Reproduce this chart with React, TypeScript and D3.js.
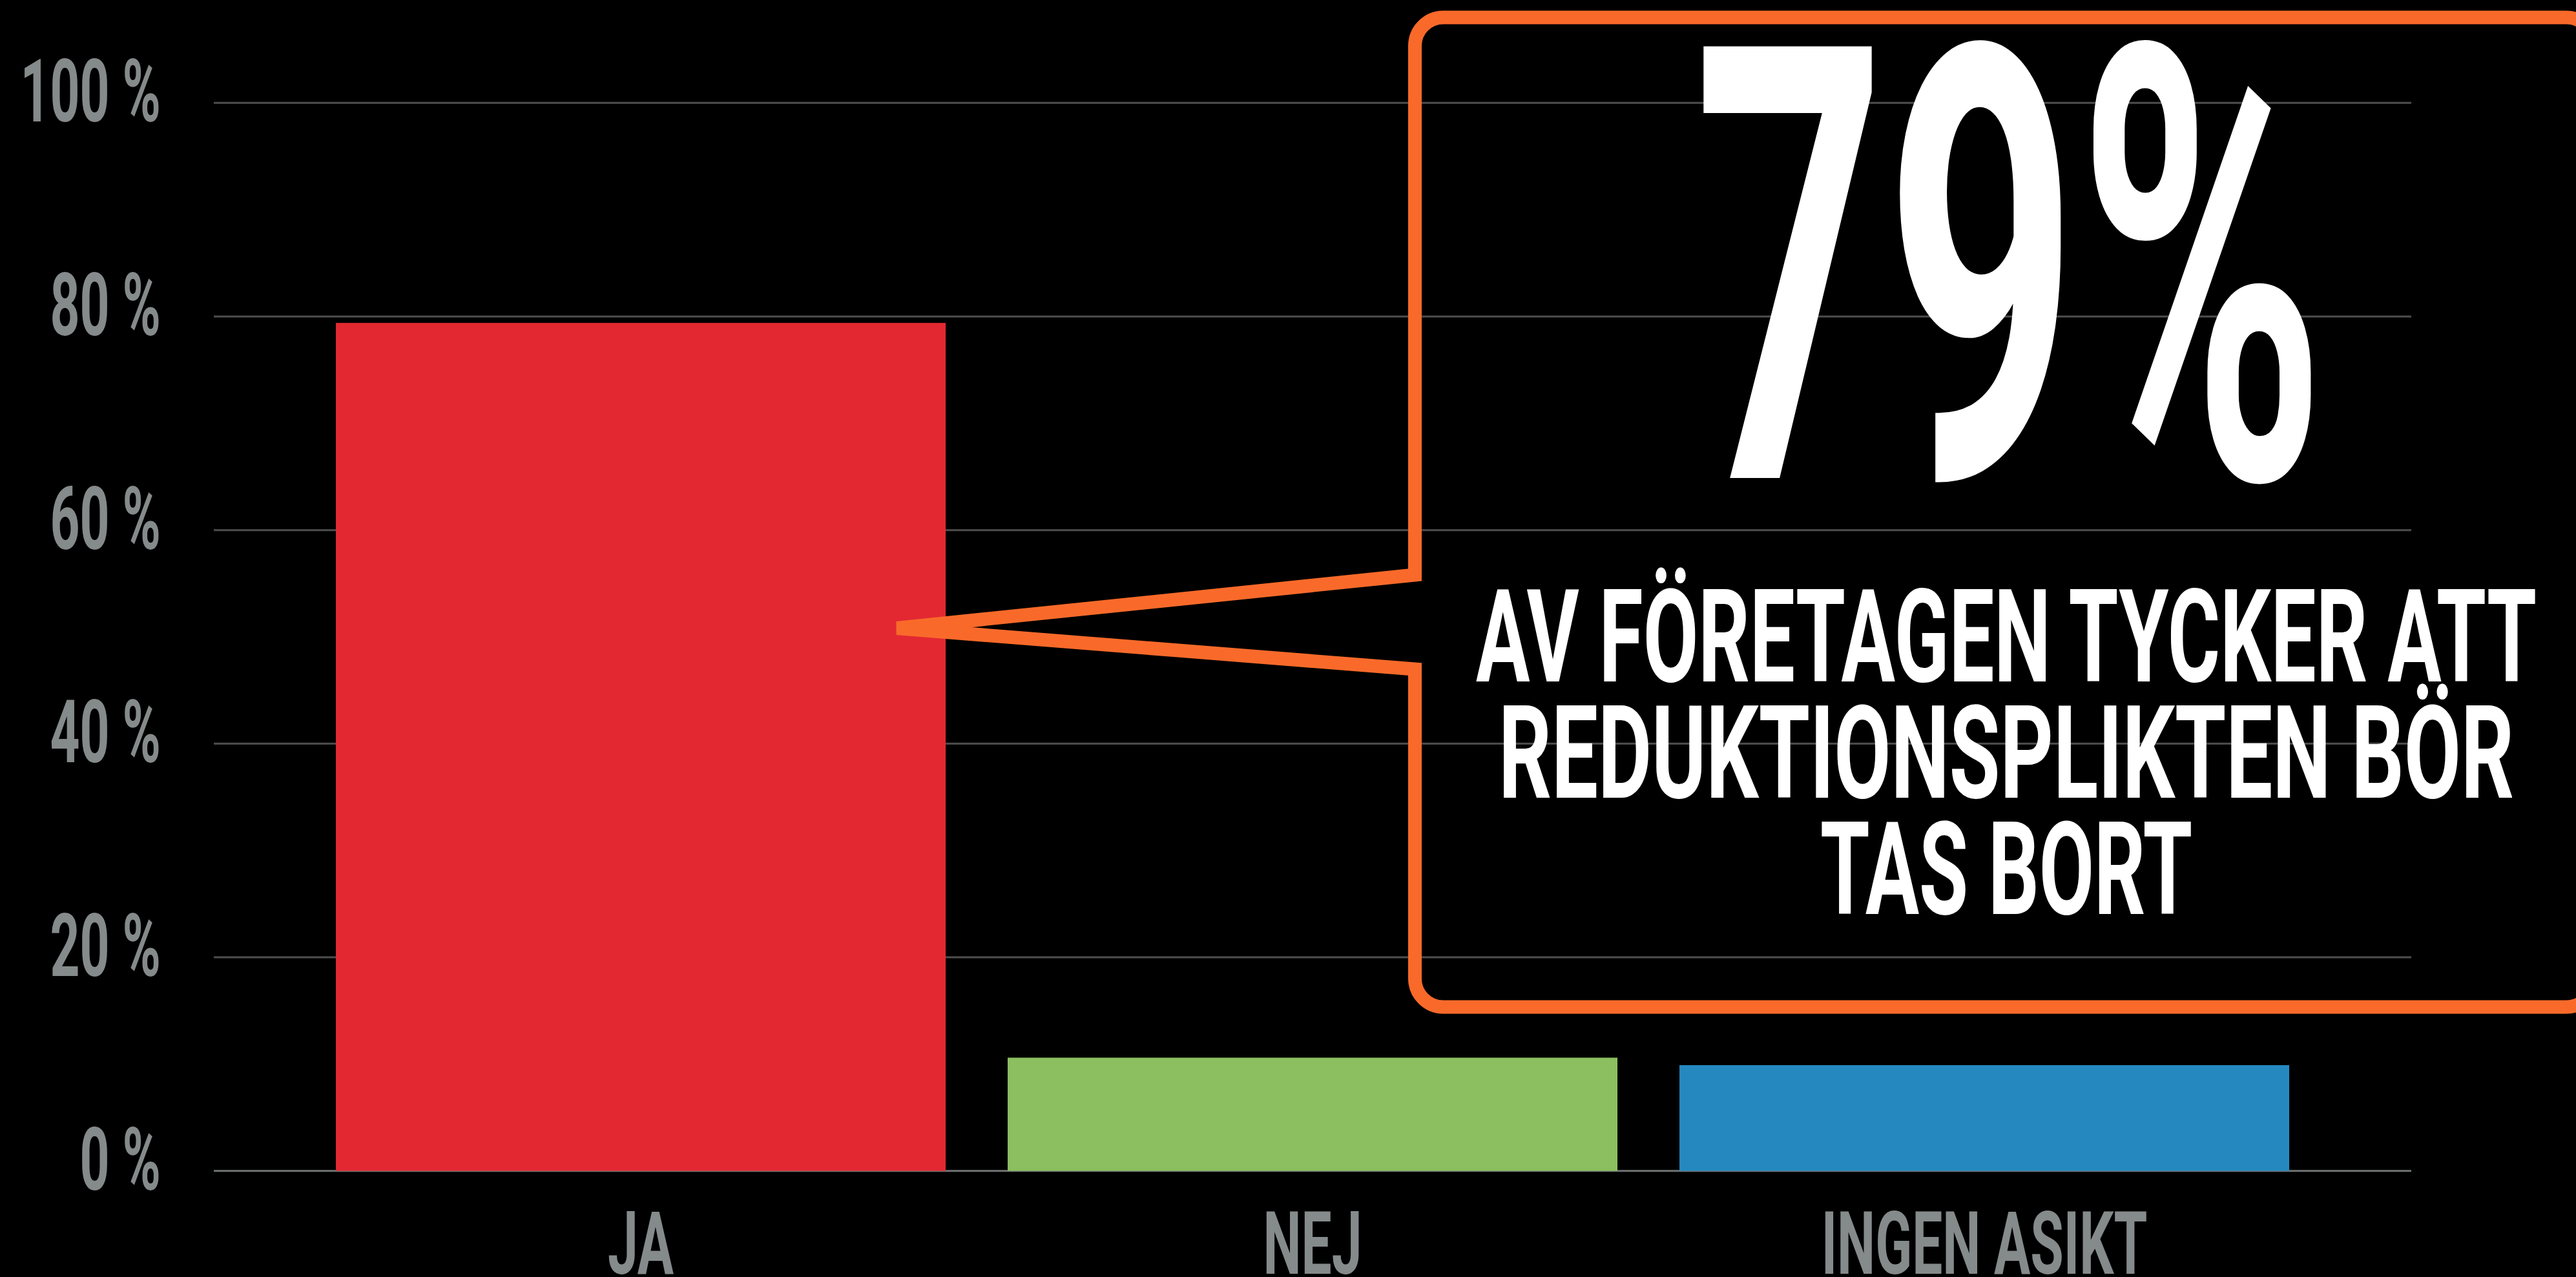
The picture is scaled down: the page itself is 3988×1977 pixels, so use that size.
import React, { useEffect, useRef } from "react";
import * as d3 from "d3";

// survey answers (share of companies, %)
const categories = ["JA", "NEJ", "INGEN ASIKT"];
const shares = [79.4, 10.6, 9.9];
const barColors = ["#e32832", "#8bbf5f", "#2589bf"];
const yTicks = [0, 20, 40, 60, 80, 100];

const headline = "79%";
const calloutLines = [
  "AV FÖRETAGEN TYCKER ATT",
  "REDUKTIONSPLIKTEN BÖR",
  "TAS BORT",
];
const calloutWidths = [1642, 1572, 576];

const W = 3988;
const H = 1977;
const FONT = "Roboto, 'DejaVu Sans', sans-serif";

const App = () => {
  const svgRef = useRef<SVGSVGElement>(null);

  useEffect(() => {
    document.body.style.margin = "0";
    document.body.style.background = "#000";

    const svg = d3.select(svgRef.current);
    svg.selectAll("*").remove();

    const margin = { top: 159.3, right: W - 3733, bottom: H - 1812.7, left: 331 };

    const x = d3
      .scaleBand()
      .domain(categories)
      .range([margin.left, W - margin.right])
      .paddingInner(0.0923)
      .paddingOuter(0.1817);

    const y = d3
      .scaleLinear()
      .domain([0, 100])
      .range([H - margin.bottom, margin.top]);

    svg.append("rect").attr("width", W).attr("height", H).attr("fill", "#000");

    // gridlines
    svg
      .append("g")
      .selectAll("line")
      .data(yTicks)
      .enter()
      .append("line")
      .attr("x1", margin.left)
      .attr("x2", W - margin.right)
      .attr("y1", (d) => y(d))
      .attr("y2", (d) => y(d))
      .attr("stroke", (d) => (d === 0 ? "#6f7373" : "#4e4e4e"))
      .attr("stroke-width", 3);

    // y labels
    svg
      .append("g")
      .selectAll("text")
      .data(yTicks)
      .enter()
      .append("text")
      .attr("transform", (d) => `translate(249,${y(d) + 29}) scale(0.595,1)`)
      .attr("text-anchor", "end")
      .attr("font-family", FONT)
      .attr("font-weight", 700)
      .attr("font-size", 135)
      .attr("fill", "#858a8a")
      .text((d) => `${d} %`);

    // bars
    svg
      .append("g")
      .selectAll("rect")
      .data(categories)
      .enter()
      .append("rect")
      .attr("x", (d) => x(d))
      .attr("width", x.bandwidth())
      .attr("y", (d, i) => y(shares[i]))
      .attr("height", (d, i) => y(0) - y(shares[i]))
      .attr("fill", (d, i) => barColors[i]);

    // category labels
    svg
      .append("g")
      .selectAll("text")
      .data(categories)
      .enter()
      .append("text")
      .attr(
        "transform",
        (d) => `translate(${x(d) + x.bandwidth() / 2},1972) scale(0.62,1)`
      )
      .attr("text-anchor", "middle")
      .attr("font-family", FONT)
      .attr("font-weight", 700)
      .attr("font-size", 135)
      .attr("fill", "#858a8a")
      .text((d) => d);

    // callout box with pointer to the first bar
    const tipX = x(categories[0]) + x.bandwidth() * 0.92;
    const tipY = y(shares[0] * 0.64);
    const bx0 = 2190.5,
      by0 = 27,
      bx1 = 4017,
      by1 = 1559,
      r = 44;
    const path = d3.path();
    path.moveTo(bx0, 890);
    path.lineTo(tipX, tipY);
    path.lineTo(bx0, 1036);
    path.lineTo(bx0, by1 - r);
    path.arcTo(bx0, by1, bx0 + r, by1, r);
    path.lineTo(bx1 - r, by1);
    path.arcTo(bx1, by1, bx1, by1 - r, r);
    path.lineTo(bx1, by0 + r);
    path.arcTo(bx1, by0, bx1 - r, by0, r);
    path.lineTo(bx0 + r, by0);
    path.arcTo(bx0, by0, bx0, by0 + r, r);
    path.closePath();

    svg
      .append("path")
      .attr("d", path.toString())
      .attr("fill", "none")
      .attr("stroke", "#f96a2a")
      .attr("stroke-width", 21)
      .attr("stroke-linejoin", "miter")
      .attr("stroke-miterlimit", 4);

    // headline number
    svg
      .append("text")
      .attr("x", 3111)
      .attr("y", 740)
      .attr("text-anchor", "middle")
      .attr("font-family", FONT)
      .attr("font-weight", 700)
      .attr("font-size", 940)
      .attr("fill", "#fff")
      .attr("textLength", 978)
      .attr("lengthAdjust", "spacingAndGlyphs")
      .text(headline);

    // callout text
    svg
      .append("g")
      .selectAll("text")
      .data(calloutLines)
      .enter()
      .append("text")
      .attr("x", 3106)
      .attr("y", (d, i) => 1055 + i * 180)
      .attr("text-anchor", "middle")
      .attr("font-family", FONT)
      .attr("font-weight", 700)
      .attr("font-size", 200)
      .attr("fill", "#fff")
      .attr("textLength", (d, i) => calloutWidths[i])
      .attr("lengthAdjust", "spacingAndGlyphs")
      .text((d) => d);
  }, []);

  return (
    <div style={{ position: "absolute", left: 0, top: 0, width: W, height: H, background: "#000" }}>
      <svg ref={svgRef} width={W} height={H} style={{ display: "block" }}></svg>
    </div>
  );
};

export default App;
